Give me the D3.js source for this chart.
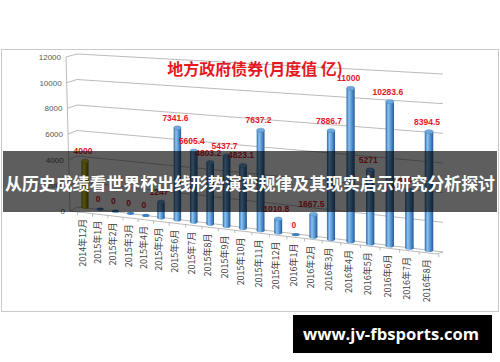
<!DOCTYPE html>
<html lang="zh">
<head>
<meta charset="UTF-8">
<title>地方政府债券(月度值 亿)</title>
<script src="https://d3js.org/d3.v7.min.js"></script>
<style>
body{ margin:0; background:#fff; }
.ytick{ font-family:"Liberation Sans",sans-serif; font-size:8px; fill:#595959; }
.cat{ font-family:"Noto Sans CJK SC",sans-serif; font-size:9px; fill:#404040; }
.label{ font-family:"Liberation Sans",sans-serif; font-size:8.5px; font-weight:bold; fill:#e5191f; }
.grid{ stroke:#a9a9a9; stroke-width:0.8; fill:none; }
</style>
</head>
<body>
<script>
var width = 500, height = 362;

// 数据
var categories = ["2014年12月","2015年1月","2015年2月","2015年3月","2015年4月","2015年5月","2015年6月",
    "2015年7月","2015年8月","2015年9月","2015年10月","2015年11月","2015年12月","2016年1月","2016年2月",
    "2016年3月","2016年4月","2016年5月","2016年6月","2016年7月","2016年8月"];
var values = [4000,0,0,0,0,1247,7341.6,5605.4,4803.2,5437.7,4823.1,7637.2,1010.8,0,1667.5,7886.7,11000,5271,10283.6,4100,8394.5];
var yTicks = [0,2000,4000,6000,8000,10000,12000];
var highlight = ["2014年12月"];
var title = "地方政府债券(月度值 亿)";
var banner = "从历史成绩看世界杯出线形势演变规律及其现实启示研究分析探讨";
var site = "www.jv-fbsports.com";

var svg = d3.select("body").append("svg")
    .attr("width", width)
    .attr("height", height);

// 透视比例尺
var idx = d3.scalePoint().domain(categories).range([0, categories.length - 1]);
var xPos = d3.scaleLinear().domain([0,5,10,15,20]).range([85,161,243,331,429]);
var baseY = d3.scaleLinear().domain([0,10,20]).range([207,228,250]);
var kScale = d3.scaleLinear().domain([0,6,11,16,20]).range([11.5,12.5,13.1,13.9,14.1]);   // px / 1000
var barW = d3.scaleLinear().domain([0,20]).range([7,8.5]);
function yScale(i){
    return d3.scaleLinear().domain([0,12000]).range([baseY(i), baseY(i) - 12 * kScale(i)]);
}
var yFront = d3.scaleLinear().domain([0,12000]).range([211,57]);
var xFront = d3.scaleLinear().domain([0,12000]).range([70,66]);
var yBack = d3.scaleLinear().domain([0,12000]).range([207,54]);
var yRight = d3.scaleLinear().domain([0,12000]).range([252,74]);
var floorY = d3.scaleLinear().domain([70,437]).range([211,254]);

// 外框
svg.append("rect")
    .attr("x", 1.5).attr("y", 49.5)
    .attr("width", 497).attr("height", 262)
    .attr("fill", "#fff").attr("stroke", "#c9c9c9");

// 渐变
var defs = svg.append("defs");
function grad(id, stops){
    var g = defs.append("linearGradient").attr("id", id)
        .attr("x1", "0%").attr("x2", "100%").attr("y1", "0%").attr("y2", "0%");
    stops.forEach(function(s){
        g.append("stop").attr("offset", s[0]).attr("stop-color", s[1]);
    });
}
grad("blue", [["0%","#2d67a6"],["30%","#8dc3f0"],["60%","#5a9ad8"],["100%","#245a96"]]);
grad("yellow", [["0%","#7c7800"],["30%","#e3df3a"],["60%","#bdb800"],["100%","#6f6b00"]]);

// 网格线 (背墙)
var wall = svg.append("g");
wall.selectAll(".grid")
    .data(yTicks).enter()
    .append("line").attr("class", "grid")
    .attr("x1", 77).attr("y1", function(d){ return yBack(d); })
    .attr("x2", 443).attr("y2", function(d){ return yRight(d); });
wall.selectAll(".tk")
    .data(yTicks).enter()
    .append("line").attr("class", "grid")
    .attr("x1", function(d){ return xFront(d); }).attr("y1", function(d){ return yFront(d); })
    .attr("x2", 77).attr("y2", function(d){ return yBack(d); });
wall.append("line").attr("class", "grid")
    .attr("x1", xFront(0)).attr("y1", yFront(0))
    .attr("x2", xFront(12000)).attr("y2", yFront(12000));
wall.selectAll(".ytick")
    .data(yTicks).enter()
    .append("text").attr("class", "ytick")
    .attr("text-anchor", "end")
    .attr("x", function(d){ return xFront(d) - 5; })
    .attr("y", function(d){ return yFront(d) + 3; })
    .text(function(d){ return d; });

// 地板
wall.append("line").attr("class", "grid")
    .attr("x1", 70).attr("y1", floorY(70))
    .attr("x2", 437).attr("y2", floorY(437));
wall.append("line").attr("class", "grid")
    .attr("x1", 437).attr("y1", floorY(437))
    .attr("x2", 443).attr("y2", yRight(0));
var edges = d3.range(categories.length + 1).map(function(i){ return xPos(i - 0.5); });
wall.selectAll(".ctick")
    .data(edges).enter()
    .append("line").attr("class", "grid")
    .attr("x1", function(d){ return d; }).attr("y1", function(d){ return floorY(d); })
    .attr("x2", function(d){ return d; }).attr("y2", function(d){ return floorY(d) + 3; });

// 柱子 (圆柱)
var bars = svg.append("g").selectAll(".bar")
    .data(categories).enter()
    .append("g").attr("class", "bar");
bars.each(function(c, j){
    var i = idx(c), v = values[j];
    var g = d3.select(this);
    var x = xPos(i), w = barW(i), ry = 2;
    var y0 = yScale(i)(0), y1 = yScale(i)(v);
    var hl = highlight.indexOf(c) >= 0;
    var fill = hl ? "url(#yellow)" : "url(#blue)";
    var cap = hl ? "#d6d23a" : "#6fa9de";
    if (v > 0) {
        g.append("ellipse").attr("cx", x).attr("cy", y0).attr("rx", w / 2).attr("ry", ry).attr("fill", fill);
        g.append("rect").attr("x", x - w / 2).attr("y", y1).attr("width", w).attr("height", y0 - y1).attr("fill", fill);
        g.append("ellipse").attr("cx", x).attr("cy", y1).attr("rx", w / 2).attr("ry", ry)
            .attr("fill", cap).attr("stroke", hl ? "#8a8600" : "#3d78b8").attr("stroke-width", 0.4);
    } else {
        g.append("ellipse").attr("cx", x).attr("cy", y0).attr("rx", w / 2).attr("ry", 1.6).attr("fill", "#3f7fc2");
    }
});

// 数值标签
svg.append("g").selectAll(".label")
    .data(categories).enter()
    .append("text").attr("class", "label")
    .attr("text-anchor", "middle")
    .attr("x", function(c){ return xPos(idx(c)) - 2; })
    .attr("y", function(c, j){ return yScale(idx(c))(values[j]) - 7; })
    .text(function(c, j){ return values[j]; });

// 分类标签
svg.append("g").selectAll(".cat")
    .data(categories).enter()
    .append("text").attr("class", "cat")
    .attr("text-anchor", "end")
    .attr("transform", function(c){
        var x = xPos(idx(c)) + 1;
        return "translate(" + x + "," + (floorY(x) + 6) + ") rotate(-90)";
    })
    .text(function(c){ return c; });

// 标题
svg.append("text")
    .attr("x", 255).attr("y", 75)
    .attr("text-anchor", "middle")
    .attr("font-family", "Noto Sans CJK SC, sans-serif")
    .attr("font-size", 16).attr("font-weight", "bold")
    .attr("fill", "#e5191f")
    .text(title);

// 横幅
svg.append("rect")
    .attr("x", 3).attr("y", 151)
    .attr("width", 494).attr("height", 61)
    .attr("fill", "rgba(0,0,0,0.63)");
svg.append("text")
    .attr("x", 250).attr("y", 182)
    .attr("text-anchor", "middle")
    .attr("dominant-baseline", "central")
    .attr("font-family", "Noto Sans CJK SC, sans-serif")
    .attr("font-size", 17).attr("font-weight", "bold")
    .attr("fill", "#fff")
    .attr("textLength", 490).attr("lengthAdjust", "spacingAndGlyphs")
    .text(banner);

// 水印
svg.append("rect")
    .attr("x", 293).attr("y", 315)
    .attr("width", 199).attr("height", 38)
    .attr("fill", "#000");
svg.append("text")
    .attr("x", 391).attr("y", 334)
    .attr("text-anchor", "middle")
    .attr("dominant-baseline", "central")
    .attr("font-family", "Open Sans, sans-serif")
    .attr("font-size", 16).attr("font-weight", "bold")
    .attr("fill", "#fff")
    .attr("textLength", 176).attr("lengthAdjust", "spacingAndGlyphs")
    .text(site);
</script>
</body>
</html>
